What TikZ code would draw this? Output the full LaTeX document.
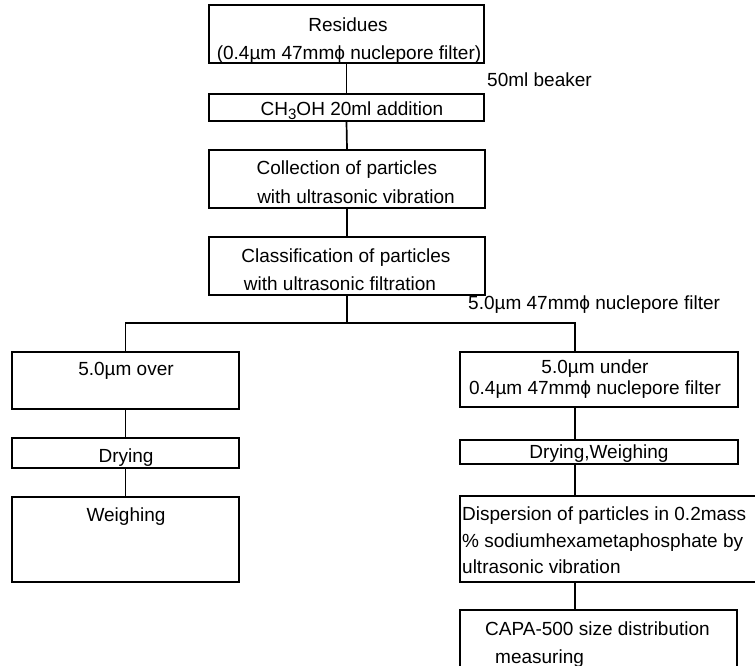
\documentclass[tikz,border=0pt]{standalone}
\usepackage{fontspec}
\setmainfont{Liberation Sans}
\usetikzlibrary{fit}
\begin{document}
\begin{tikzpicture}[x=1pt,y=-1pt,
  box/.style={draw, line width=1.7pt, inner sep=0pt},
  txt/.style={font=\fontsize{19}{22}\selectfont, inner sep=0pt, anchor=base},
  txtl/.style={txt, anchor=base west},
  ln/.style={line width=1.7pt}]
\path[use as bounding box] (0,0) rectangle (755,666);
\clip (0,0) rectangle (755,666);
% boxes
\node[box, fit={(209,5)(484,63)}] (res) {};
\node[box, fit={(209,94)(484,121)}] (ch) {};
\node[box, fit={(209,150)(485,208)}] (col) {};
\node[box, fit={(209,237)(485,295)}] (cls) {};
\node[box, fit={(12,352)(239,409)}] (over) {};
\node[box, fit={(12,438)(239,468)}] (dry) {};
\node[box, fit={(12,497)(239,582)}] (wei) {};
\node[box, fit={(460,352)(738,407)}] (under) {};
\node[box, fit={(460,440)(738,464)}] (dw) {};
\node[box, fit={(460,496)(762,582)}] (disp) {};
\node[box, fit={(460,610)(737,690)}] (capa) {};
% texts
\node[txt] (t1) at (348,32) {Residues};
\node[txt] (t2) at (349,60) {(0.4µm 47mmϕ nuclepore filter)};
\node[txt] (t3) at (352,116) {CH\raisebox{-0.3ex}{\fontsize{15}{15}\selectfont 3}OH 20ml addition};
\node[txt] (t4) at (347,175) {Collection of particles};
\node[txt] (t5) at (356,203) {with ultrasonic vibration};
\node[txt] (t6) at (346,262) {Classification of particles};
\node[txt] (t7) at (340,290) {with ultrasonic filtration};
\node[txtl] (t8) at (487,87) {50ml beaker};
\node[txtl] (t9) at (468,309) {5.0µm 47mmϕ nuclepore filter};
\node[txt] (t10) at (126,375) {5.0µm over};
\node[txt] (t11) at (126,462) {Drying};
\node[txt] (t12) at (126,521) {Weighing};
\node[txt] (t13) at (595,373) {5.0µm under};
\node[txt] (t14) at (595,394) {0.4µm 47mmϕ nuclepore filter};
\node[txt] (t15) at (599,458) {Drying,Weighing};
\node[txtl] (t16) at (462,520) {Dispersion of particles in 0.2mass};
\node[txtl] (t17) at (462,547) {\% sodiumhexametaphosphate by};
\node[txtl] (t18) at (462,573) {ultrasonic vibration};
\node[txtl] (t19) at (485,635) {CAPA-500 size distribution};
\node[txtl] (t20) at (495,663) {measuring};
% connectors
\coordinate (rx) at (575,323);
\draw[ln] (res.south) -- (ch.north);
\draw[ln] (ch.south) -- (col.north);
\draw[ln] (col.south) -- (cls.north);
\draw[ln] (cls.south) -- (cls.south |- rx);
\draw[ln] (over.north) |- (rx) -- (under.north -| rx);
\draw[ln] (over) -- (dry);
\draw[ln] (dry) -- (wei);
\draw[ln] (under.south -| rx) -- (dw.north -| rx);
\draw[ln] (dw.south -| rx) -- (disp.north -| rx);
\draw[ln] (disp.south -| rx) -- (capa.north -| rx);
\end{tikzpicture}
\end{document}
